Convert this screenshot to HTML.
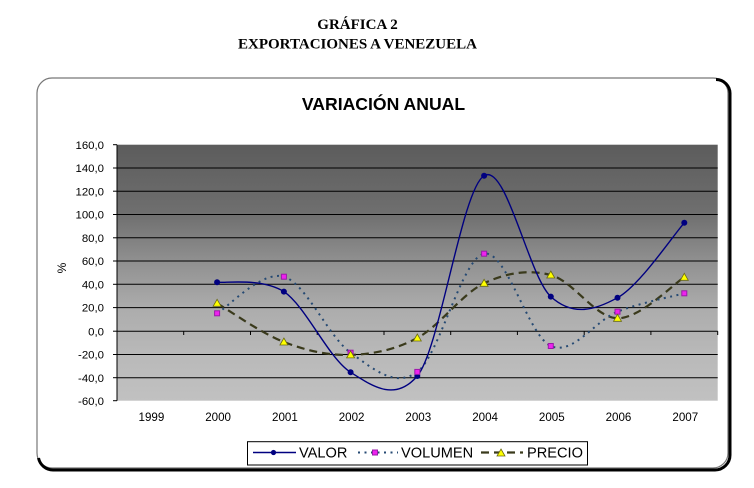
<!DOCTYPE html>
<html>
<head>
<meta charset="utf-8">
<style>
html,body{margin:0;padding:0;background:#fff;}
body{width:754px;height:488px;overflow:hidden;}
svg{display:block;}
</style>
</head>
<body>
<svg width="754" height="488" viewBox="0 0 754 488" xmlns="http://www.w3.org/2000/svg">
<defs>
<linearGradient id="bg" x1="0" y1="0" x2="0" y2="1">
<stop offset="0" stop-color="#5c5c5c"/>
<stop offset="0.27" stop-color="#6f6f6f"/>
<stop offset="0.45" stop-color="#8f8f8f"/>
<stop offset="0.636" stop-color="#acacac"/>
<stop offset="0.82" stop-color="#b9b9b9"/>
<stop offset="1" stop-color="#c1c1c1"/>
</linearGradient>
</defs>
<rect x="0" y="0" width="754" height="488" fill="#fff"/>

<!-- header -->
<g font-family="'Liberation Serif', serif" font-weight="bold" font-size="15" text-anchor="middle" fill="#000">
<text x="357.5" y="29">GRÁFICA 2</text>
<text x="357.5" y="48.3">EXPORTACIONES A VENEZUELA</text>
</g>

<!-- chart frame -->
<rect x="37" y="78" width="691" height="390" rx="15" ry="15" fill="#fff" stroke="#777" stroke-width="1.2"/>
<path d="M716,79.5 A14,14 0 0 1 730,94 L730,455 A15,15 0 0 1 715,470 L53,470 A15,15 0 0 1 38.5,458" fill="none" stroke="#000" stroke-width="3"/>

<!-- title -->
<text x="383.5" y="110" font-family="'Liberation Sans', sans-serif" font-weight="bold" font-size="17.6" text-anchor="middle" fill="#000">VARIACIÓN ANUAL</text>

<!-- plot area -->
<rect x="117" y="144.7" width="600.7" height="256" fill="url(#bg)"/>

<!-- gridlines -->
<g stroke="#000" stroke-width="1">
<line x1="117" y1="168.0" x2="717.7" y2="168.0"/>
<line x1="117" y1="191.2" x2="717.7" y2="191.2"/>
<line x1="117" y1="214.5" x2="717.7" y2="214.5"/>
<line x1="117" y1="237.8" x2="717.7" y2="237.8"/>
<line x1="117" y1="261.0" x2="717.7" y2="261.0"/>
<line x1="117" y1="284.3" x2="717.7" y2="284.3"/>
<line x1="117" y1="307.6" x2="717.7" y2="307.6"/>
<line x1="117" y1="331.2" x2="717.7" y2="331.2"/>
<line x1="117" y1="354.5" x2="717.7" y2="354.5"/>
<line x1="117" y1="377.7" x2="717.7" y2="377.7"/>
<!-- y axis -->
<line x1="117" y1="144.7" x2="117" y2="400.7"/>
<!-- y ticks -->
<line x1="113" y1="144.7" x2="117" y2="144.7"/>
<line x1="113" y1="168.0" x2="117" y2="168.0"/>
<line x1="113" y1="191.2" x2="117" y2="191.2"/>
<line x1="113" y1="214.5" x2="117" y2="214.5"/>
<line x1="113" y1="237.8" x2="117" y2="237.8"/>
<line x1="113" y1="261.0" x2="117" y2="261.0"/>
<line x1="113" y1="284.3" x2="117" y2="284.3"/>
<line x1="113" y1="307.6" x2="117" y2="307.6"/>
<line x1="113" y1="331.2" x2="117" y2="331.2"/>
<line x1="113" y1="354.5" x2="117" y2="354.5"/>
<line x1="113" y1="377.7" x2="117" y2="377.7"/>
<line x1="113" y1="400.7" x2="117" y2="400.7"/>
<!-- x ticks -->
<line x1="183.7" y1="331.2" x2="183.7" y2="335"/>
<line x1="250.5" y1="331.2" x2="250.5" y2="335"/>
<line x1="317.2" y1="331.2" x2="317.2" y2="335"/>
<line x1="384.0" y1="331.2" x2="384.0" y2="335"/>
<line x1="450.7" y1="331.2" x2="450.7" y2="335"/>
<line x1="517.4" y1="331.2" x2="517.4" y2="335"/>
<line x1="584.2" y1="331.2" x2="584.2" y2="335"/>
<line x1="650.9" y1="331.2" x2="650.9" y2="335"/>
<line x1="717.7" y1="331.2" x2="717.7" y2="335"/>
</g>

<!-- y labels -->
<g font-family="'Liberation Sans', sans-serif" font-size="11.4" text-anchor="end" fill="#000">
<text x="104" y="148.8">160,0</text>
<text x="104" y="172.1">140,0</text>
<text x="104" y="195.3">120,0</text>
<text x="104" y="218.6">100,0</text>
<text x="104" y="241.9">80,0</text>
<text x="104" y="265.1">60,0</text>
<text x="104" y="288.4">40,0</text>
<text x="104" y="311.7">20,0</text>
<text x="104" y="335.3">0,0</text>
<text x="104" y="358.6">-20,0</text>
<text x="104" y="381.8">-40,0</text>
<text x="104" y="404.8">-60,0</text>
</g>
<text x="0" y="0" transform="translate(66,268) rotate(-90)" font-family="'Liberation Sans', sans-serif" font-size="12" text-anchor="middle" fill="#000">%</text>

<!-- x labels -->
<g font-family="'Liberation Sans', sans-serif" font-size="11.6" text-anchor="middle" fill="#000">
<text x="151.4" y="421">1999</text>
<text x="218.1" y="421">2000</text>
<text x="284.9" y="421">2001</text>
<text x="351.6" y="421">2002</text>
<text x="418.3" y="421">2003</text>
<text x="485.1" y="421">2004</text>
<text x="551.8" y="421">2005</text>
<text x="618.5" y="421">2006</text>
<text x="685.3" y="421">2007</text>
</g>

<!-- PRECIO line -->
<path d="M217.1,303.3 C228.2,309.8 261.6,333.4 283.9,342.0 C306.1,350.6 328.4,355.6 350.6,354.9 C372.8,354.2 395.1,349.9 417.3,338.0 C439.6,326.1 461.9,293.8 484.1,283.3 C506.3,272.8 528.6,269.2 550.8,275.0 C573.1,280.8 595.3,317.9 617.5,318.3 C639.8,318.7 673.2,284.1 684.3,277.3" fill="none" stroke="#3a3a1c" stroke-width="2.2" stroke-dasharray="8 5"/>

<!-- VOLUMEN line -->
<path d="M217.1,313.3 C228.2,307.2 261.6,270.1 283.9,276.7 C306.1,283.3 328.4,336.8 350.6,352.7 C372.8,368.6 395.1,388.4 417.3,371.9 C439.6,355.4 461.9,258.0 484.1,253.7 C506.3,249.4 528.6,336.3 550.8,346.0 C573.1,355.7 595.3,320.5 617.5,311.7 C639.8,302.9 673.2,296.4 684.3,293.3" fill="none" stroke="#264a73" stroke-width="2" stroke-dasharray="2 4.5"/>

<!-- VALOR line -->
<path d="M217.1,282.3 C228.2,283.0 261.6,278.0 283.9,291.6 C306.1,306.6 328.4,358.2 350.6,372.3 C372.8,386.4 395.1,402.0 417.3,376.0 C439.6,350.0 461.9,188.9 484.1,175.7 C506.3,162.5 528.6,276.3 550.8,296.6 C573.1,316.9 595.3,310.0 617.5,297.7 C639.8,285.4 673.2,235.3 684.3,222.8" fill="none" stroke="#000080" stroke-width="1.4"/>

<!-- VALOR markers -->
<g fill="#000080">
<circle cx="217.1" cy="282.3" r="3"/>
<circle cx="283.9" cy="291.6" r="3"/>
<circle cx="350.6" cy="372.3" r="3"/>
<circle cx="417.3" cy="376.0" r="3"/>
<circle cx="484.1" cy="175.7" r="3"/>
<circle cx="550.8" cy="296.6" r="3"/>
<circle cx="617.5" cy="297.7" r="3"/>
<circle cx="684.3" cy="222.8" r="3"/>
</g>

<!-- VOLUMEN markers -->
<g fill="#ee22ee" stroke="#9a1aa8" stroke-width="1">
<rect x="214.6" y="310.8" width="5" height="5"/>
<rect x="281.4" y="274.2" width="5" height="5"/>
<rect x="348.1" y="350.2" width="5" height="5"/>
<rect x="414.8" y="369.4" width="5" height="5"/>
<rect x="481.6" y="251.2" width="5" height="5"/>
<rect x="548.3" y="343.5" width="5" height="5"/>
<rect x="615.0" y="309.2" width="5" height="5"/>
<rect x="681.8" y="290.8" width="5" height="5"/>
</g>

<!-- PRECIO markers -->
<g fill="#ffff00" stroke="#6b6b10" stroke-width="0.8">
<polygon points="217.1,299.3 221.1,306.3 213.1,306.3"/>
<polygon points="283.9,338.0 287.9,345.0 279.9,345.0"/>
<polygon points="350.6,350.9 354.6,357.9 346.6,357.9"/>
<polygon points="417.3,334.0 421.3,341.0 413.3,341.0"/>
<polygon points="484.1,279.3 488.1,286.3 480.1,286.3"/>
<polygon points="550.8,271.0 554.8,278.0 546.8,278.0"/>
<polygon points="617.5,314.3 621.5,321.3 613.5,321.3"/>
<polygon points="684.3,273.3 688.3,280.3 680.3,280.3"/>
</g>

<!-- legend -->
<rect x="247.5" y="441.7" width="340" height="23.3" fill="#fff" stroke="#000" stroke-width="1"/>
<line x1="253" y1="452.5" x2="296" y2="452.5" stroke="#000080" stroke-width="1.4"/>
<circle cx="273.5" cy="452.5" r="2.6" fill="#000080"/>
<line x1="358" y1="452.5" x2="398" y2="452.5" stroke="#264a73" stroke-width="2" stroke-dasharray="2 4.5"/>
<rect x="372.5" y="450" width="5" height="5" fill="#ee22ee" stroke="#9a1aa8" stroke-width="1"/>
<line x1="481" y1="452.5" x2="523" y2="452.5" stroke="#3a3a1c" stroke-width="2.2" stroke-dasharray="8 5"/>
<polygon points="501,449 505,456 497,456" fill="#ffff00" stroke="#6b6b10" stroke-width="0.8"/>
<g font-family="'Liberation Sans', sans-serif" font-size="14.6" fill="#000">
<text x="299" y="457.5">VALOR</text>
<text x="401" y="457.5">VOLUMEN</text>
<text x="527" y="457.5">PRECIO</text>
</g>
</svg>
</body>
</html>
